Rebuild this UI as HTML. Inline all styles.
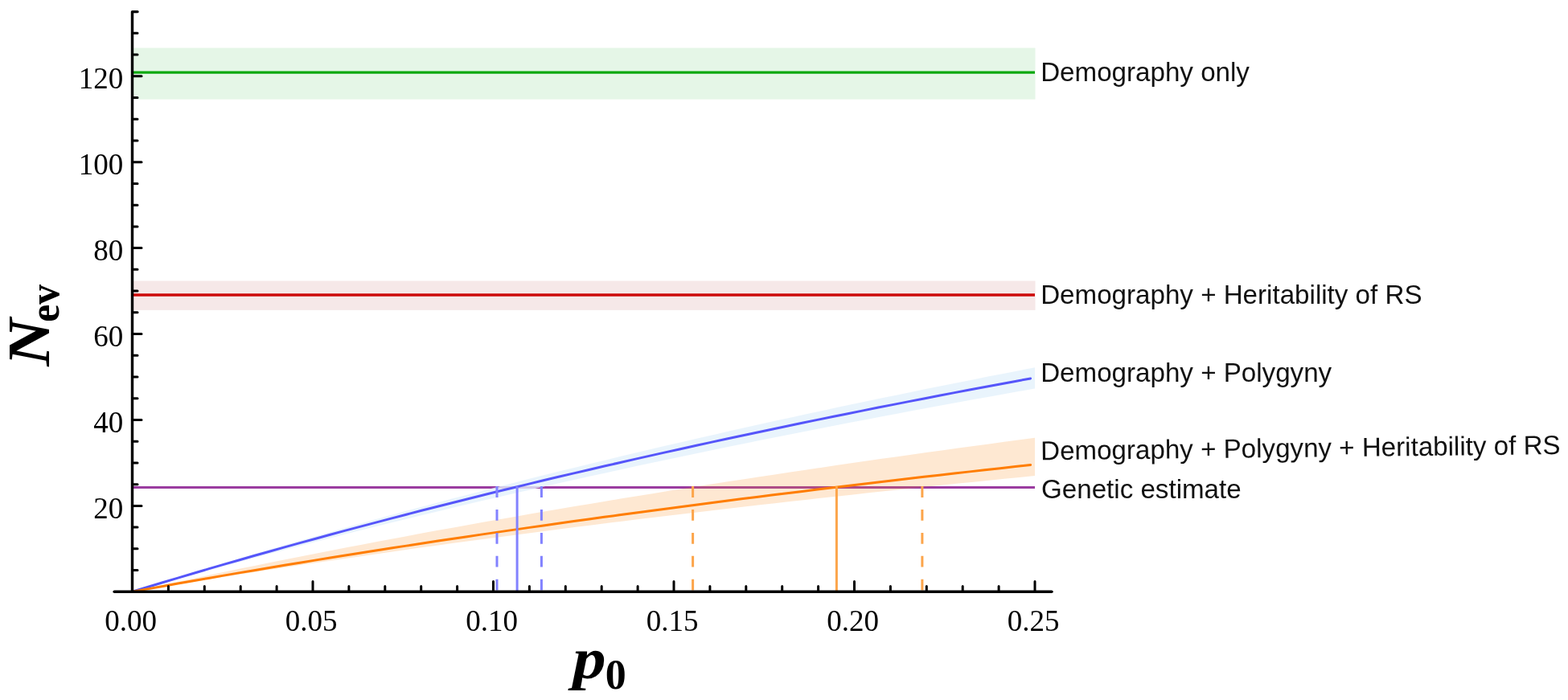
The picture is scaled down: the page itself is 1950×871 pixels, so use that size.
<!DOCTYPE html>
<html><head><meta charset="utf-8"><style>
html,body{margin:0;padding:0;background:#fff;}
svg{display:block;}
.tl{font-family:"Liberation Serif",serif;font-size:37px;fill:#000;}
.lg{font-family:"Liberation Sans",sans-serif;font-size:33.15px;fill:#111;}
.ax{font-family:"Liberation Serif",serif;font-size:74px;font-weight:bold;fill:#000;}
.sub{font-size:52px;font-style:normal;}
</style></head><body>
<svg width="1950" height="871" viewBox="0 0 1950 871">
<rect width="1950" height="871" fill="#fff"/>
<rect x="164.5" y="59.6" width="1123.00" height="64" fill="#e5f6e7"/>
<rect x="164.5" y="349.5" width="1123.00" height="36.4" fill="#f6e8e8"/>
<line x1="164.5" y1="606.4" x2="1287.00" y2="606.4" stroke="#9b3ca0" stroke-width="3"/>
<polygon points="164.50,736.30 183.53,730.23 202.55,724.21 221.58,718.25 240.60,712.35 259.63,706.51 278.65,700.72 297.68,694.99 316.70,689.31 335.73,683.69 354.75,678.12 373.78,672.60 392.81,667.13 411.83,661.71 430.86,656.35 449.88,651.03 468.91,645.76 487.93,640.54 506.96,635.37 525.98,630.24 545.01,625.16 564.03,620.12 583.06,615.13 602.08,610.18 621.11,605.28 640.14,600.42 659.16,595.60 678.19,590.82 697.21,586.09 716.24,581.40 735.26,576.74 754.29,572.13 773.31,567.55 792.34,563.02 811.36,558.52 830.39,554.06 849.42,549.64 868.44,545.25 887.47,540.91 906.49,536.59 925.52,532.31 944.54,528.07 963.57,523.86 982.59,519.69 1001.62,515.55 1020.64,511.44 1039.67,507.37 1058.69,503.33 1077.72,499.32 1096.75,495.35 1115.77,491.40 1134.80,487.49 1153.82,483.60 1172.85,479.75 1191.87,475.93 1210.90,472.13 1229.92,468.37 1248.95,464.63 1267.97,460.93 1287.00,457.25 1287.00,483.48 1267.97,486.84 1248.95,490.23 1229.92,493.64 1210.90,497.08 1191.87,500.55 1172.85,504.04 1153.82,507.56 1134.80,511.10 1115.77,514.67 1096.75,518.27 1077.72,521.90 1058.69,525.55 1039.67,529.24 1020.64,532.95 1001.62,536.69 982.59,540.46 963.57,544.26 944.54,548.09 925.52,551.95 906.49,555.84 887.47,559.77 868.44,563.72 849.42,567.71 830.39,571.73 811.36,575.78 792.34,579.86 773.31,583.98 754.29,588.13 735.26,592.32 716.24,596.54 697.21,600.80 678.19,605.09 659.16,609.42 640.14,613.78 621.11,618.18 602.08,622.62 583.06,627.10 564.03,631.61 545.01,636.17 525.98,640.76 506.96,645.40 487.93,650.07 468.91,654.79 449.88,659.54 430.86,664.34 411.83,669.19 392.81,674.07 373.78,679.00 354.75,683.98 335.73,688.99 316.70,694.06 297.68,699.17 278.65,704.33 259.63,709.53 240.60,714.79 221.58,720.09 202.55,725.44 183.53,730.85 164.50,736.30" fill="#e3f1fb" fill-opacity="0.8"/>
<polygon points="164.50,736.30 183.53,732.12 202.55,727.97 221.58,723.87 240.60,719.81 259.63,715.79 278.65,711.81 297.68,707.87 316.70,703.96 335.73,700.09 354.75,696.26 373.78,692.47 392.81,688.71 411.83,684.98 430.86,681.29 449.88,677.64 468.91,674.02 487.93,670.43 506.96,666.88 525.98,663.35 545.01,659.86 564.03,656.41 583.06,652.98 602.08,649.58 621.11,646.22 640.14,642.88 659.16,639.57 678.19,636.30 697.21,633.05 716.24,629.83 735.26,626.63 754.29,623.47 773.31,620.33 792.34,617.22 811.36,614.14 830.39,611.08 849.42,608.05 868.44,605.04 887.47,602.06 906.49,599.11 925.52,596.18 944.54,593.27 963.57,590.39 982.59,587.53 1001.62,584.69 1020.64,581.88 1039.67,579.09 1058.69,576.32 1077.72,573.58 1096.75,570.86 1115.77,568.16 1134.80,565.48 1153.82,562.82 1172.85,560.18 1191.87,557.57 1210.90,554.97 1229.92,552.40 1248.95,549.84 1267.97,547.30 1287.00,544.79 1287.00,592.02 1267.97,593.90 1248.95,595.80 1229.92,597.71 1210.90,599.64 1191.87,601.58 1172.85,603.54 1153.82,605.52 1134.80,607.51 1115.77,609.52 1096.75,611.54 1077.72,613.58 1058.69,615.64 1039.67,617.71 1020.64,619.81 1001.62,621.92 982.59,624.04 963.57,626.19 944.54,628.35 925.52,630.54 906.49,632.74 887.47,634.96 868.44,637.20 849.42,639.46 830.39,641.74 811.36,644.03 792.34,646.35 773.31,648.69 754.29,651.05 735.26,653.44 716.24,655.84 697.21,658.26 678.19,660.71 659.16,663.18 640.14,665.67 621.11,668.18 602.08,670.72 583.06,673.28 564.03,675.87 545.01,678.47 525.98,681.11 506.96,683.77 487.93,686.45 468.91,689.16 449.88,691.89 430.86,694.65 411.83,697.44 392.81,700.26 373.78,703.10 354.75,705.97 335.73,708.87 316.70,711.80 297.68,714.75 278.65,717.74 259.63,720.75 240.60,723.80 221.58,726.88 202.55,729.99 183.53,733.13 164.50,736.30" fill="#fb8c1e" fill-opacity="0.2"/>
<line x1="164.5" y1="90.2" x2="1287.00" y2="90.2" stroke="#0aa80f" stroke-width="3.2"/>
<line x1="164.5" y1="367" x2="1287.00" y2="367" stroke="#cd0a0a" stroke-width="3.4"/>
<polyline points="164.50,736.30 183.43,730.51 202.37,724.78 221.30,719.11 240.24,713.49 259.17,707.92 278.10,702.41 297.04,696.95 315.97,691.55 334.91,686.19 353.84,680.89 372.78,675.64 391.71,670.43 410.64,665.27 429.58,660.17 448.51,655.11 467.45,650.09 486.38,645.12 505.31,640.20 524.25,635.32 543.18,630.49 562.12,625.70 581.05,620.95 599.98,616.24 618.92,611.58 637.85,606.96 656.79,602.37 675.72,597.83 694.65,593.33 713.59,588.87 732.52,584.44 751.46,580.06 770.39,575.71 789.33,571.39 808.26,567.12 827.19,562.88 846.13,558.68 865.06,554.51 884.00,550.38 902.93,546.28 921.86,542.21 940.80,538.18 959.73,534.18 978.67,530.22 997.60,526.29 1016.53,522.39 1035.47,518.52 1054.40,514.68 1073.34,510.87 1092.27,507.09 1111.21,503.35 1130.14,499.63 1149.07,495.94 1168.01,492.28 1186.94,488.65 1205.88,485.05 1224.81,481.48 1243.74,477.93 1262.68,474.41 1281.61,470.92" fill="none" stroke="#5555fa" stroke-width="3" stroke-linecap="round"/>
<polyline points="164.50,736.30 183.43,732.86 202.37,729.45 221.30,726.07 240.24,722.73 259.17,719.42 278.10,716.14 297.04,712.89 315.97,709.68 334.91,706.49 353.84,703.34 372.78,700.21 391.71,697.11 410.64,694.05 429.58,691.01 448.51,688.00 467.45,685.02 486.38,682.06 505.31,679.13 524.25,676.23 543.18,673.35 562.12,670.51 581.05,667.68 599.98,664.88 618.92,662.11 637.85,659.36 656.79,656.63 675.72,653.93 694.65,651.26 713.59,648.60 732.52,645.97 751.46,643.36 770.39,640.78 789.33,638.21 808.26,635.67 827.19,633.15 846.13,630.65 865.06,628.17 884.00,625.71 902.93,623.28 921.86,620.86 940.80,618.46 959.73,616.08 978.67,613.73 997.60,611.39 1016.53,609.07 1035.47,606.77 1054.40,604.49 1073.34,602.22 1092.27,599.98 1111.21,597.75 1130.14,595.54 1149.07,593.35 1168.01,591.17 1186.94,589.01 1205.88,586.87 1224.81,584.75 1243.74,582.64 1262.68,580.54 1281.61,578.47" fill="none" stroke="#ff7d00" stroke-width="3" stroke-linecap="round"/>
<line x1="643.1" y1="605.1" x2="643.1" y2="736.3" stroke="#8282ff" stroke-width="3"/>
<line x1="618" y1="605.1" x2="618" y2="736.3" stroke="#8282ff" stroke-width="3" stroke-dasharray="13.8 15.1"/>
<line x1="673.4" y1="605.1" x2="673.4" y2="736.3" stroke="#8282ff" stroke-width="3" stroke-dasharray="13.8 15.1"/>
<line x1="1040.4" y1="605.1" x2="1040.4" y2="736.3" stroke="#fca54b" stroke-width="3"/>
<line x1="861.6" y1="605.1" x2="861.6" y2="736.3" stroke="#fca54b" stroke-width="3" stroke-dasharray="13.8 15.1"/>
<line x1="1146.9" y1="605.1" x2="1146.9" y2="736.3" stroke="#fca54b" stroke-width="3" stroke-dasharray="13.8 15.1"/>
<path d="M171.0,14.59H164.5V736.3" stroke="#000" stroke-width="3.4" fill="none" stroke-linejoin="round" stroke-linecap="round"/>
<line x1="142.2" y1="736.3" x2="1307.9" y2="736.3" stroke="#000" stroke-width="3.6" stroke-linecap="round"/>
<path d="M164.5,709.57h6.5 M164.5,682.84h6.5 M164.5,656.11h6.5 M164.5,629.38h11.5 M164.5,602.65h6.5 M164.5,575.92h6.5 M164.5,549.19h6.5 M164.5,522.46h11.5 M164.5,495.73h6.5 M164.5,469.00h6.5 M164.5,442.27h6.5 M164.5,415.54h11.5 M164.5,388.81h6.5 M164.5,362.08h6.5 M164.5,335.35h6.5 M164.5,308.62h11.5 M164.5,281.89h6.5 M164.5,255.16h6.5 M164.5,228.43h6.5 M164.5,201.70h11.5 M164.5,174.97h6.5 M164.5,148.24h6.5 M164.5,121.51h6.5 M164.5,94.78h11.5 M164.5,68.05h6.5 M164.5,41.32h6.5 M209.40,736.3v-6.8 M254.30,736.3v-6.8 M299.20,736.3v-6.8 M344.10,736.3v-6.8 M389.00,736.3v-12.8 M433.90,736.3v-6.8 M478.80,736.3v-6.8 M523.70,736.3v-6.8 M568.60,736.3v-6.8 M613.50,736.3v-12.8 M658.40,736.3v-6.8 M703.30,736.3v-6.8 M748.20,736.3v-6.8 M793.10,736.3v-6.8 M838.00,736.3v-12.8 M882.90,736.3v-6.8 M927.80,736.3v-6.8 M972.70,736.3v-6.8 M1017.60,736.3v-6.8 M1062.50,736.3v-12.8 M1107.40,736.3v-6.8 M1152.30,736.3v-6.8 M1197.20,736.3v-6.8 M1242.10,736.3v-6.8 M1287.00,736.3v-12.8" stroke="#000" stroke-width="3" fill="none" stroke-linecap="round"/>
<text x="153.3" y="644.58" class="tl" text-anchor="end">20</text>
<text x="153.3" y="537.66" class="tl" text-anchor="end">40</text>
<text x="153.3" y="430.74" class="tl" text-anchor="end">60</text>
<text x="153.3" y="323.82" class="tl" text-anchor="end">80</text>
<text x="153.3" y="216.90" class="tl" text-anchor="end">100</text>
<text x="153.3" y="109.98" class="tl" text-anchor="end">120</text>
<text x="162.70" y="785.0" class="tl" text-anchor="middle">0.00</text>
<text x="387.20" y="785.0" class="tl" text-anchor="middle">0.05</text>
<text x="611.70" y="785.0" class="tl" text-anchor="middle">0.10</text>
<text x="836.20" y="785.0" class="tl" text-anchor="middle">0.15</text>
<text x="1060.70" y="785.0" class="tl" text-anchor="middle">0.20</text>
<text x="1285.20" y="785.0" class="tl" text-anchor="middle">0.25</text>
<text x="1294.2" y="100.9" class="lg">Demography only</text>
<text x="1294.2" y="377.6" class="lg">Demography + Heritability of RS</text>
<text x="1294.2" y="474.8" class="lg">Demography + Polygyny</text>
<text transform="translate(1294.2,572.3) rotate(-0.64)" class="lg">Demography + Polygyny + Heritability of RS</text>
<text x="1295.0" y="619.6" class="lg">Genetic estimate</text>
<text transform="translate(712.2,843.7) scale(1.15,1)" class="ax" style="font-style:italic;font-size:72px">p</text>
<text x="752.7" y="856.8" class="ax sub">0</text>
<text transform="translate(61.2,455.7) rotate(-90) scale(1.12,1)" class="ax" font-style="italic">N</text>
<text transform="translate(73.2,400.7) rotate(-90) scale(0.955,1)" class="ax sub">ev</text>
</svg>
</body></html>
